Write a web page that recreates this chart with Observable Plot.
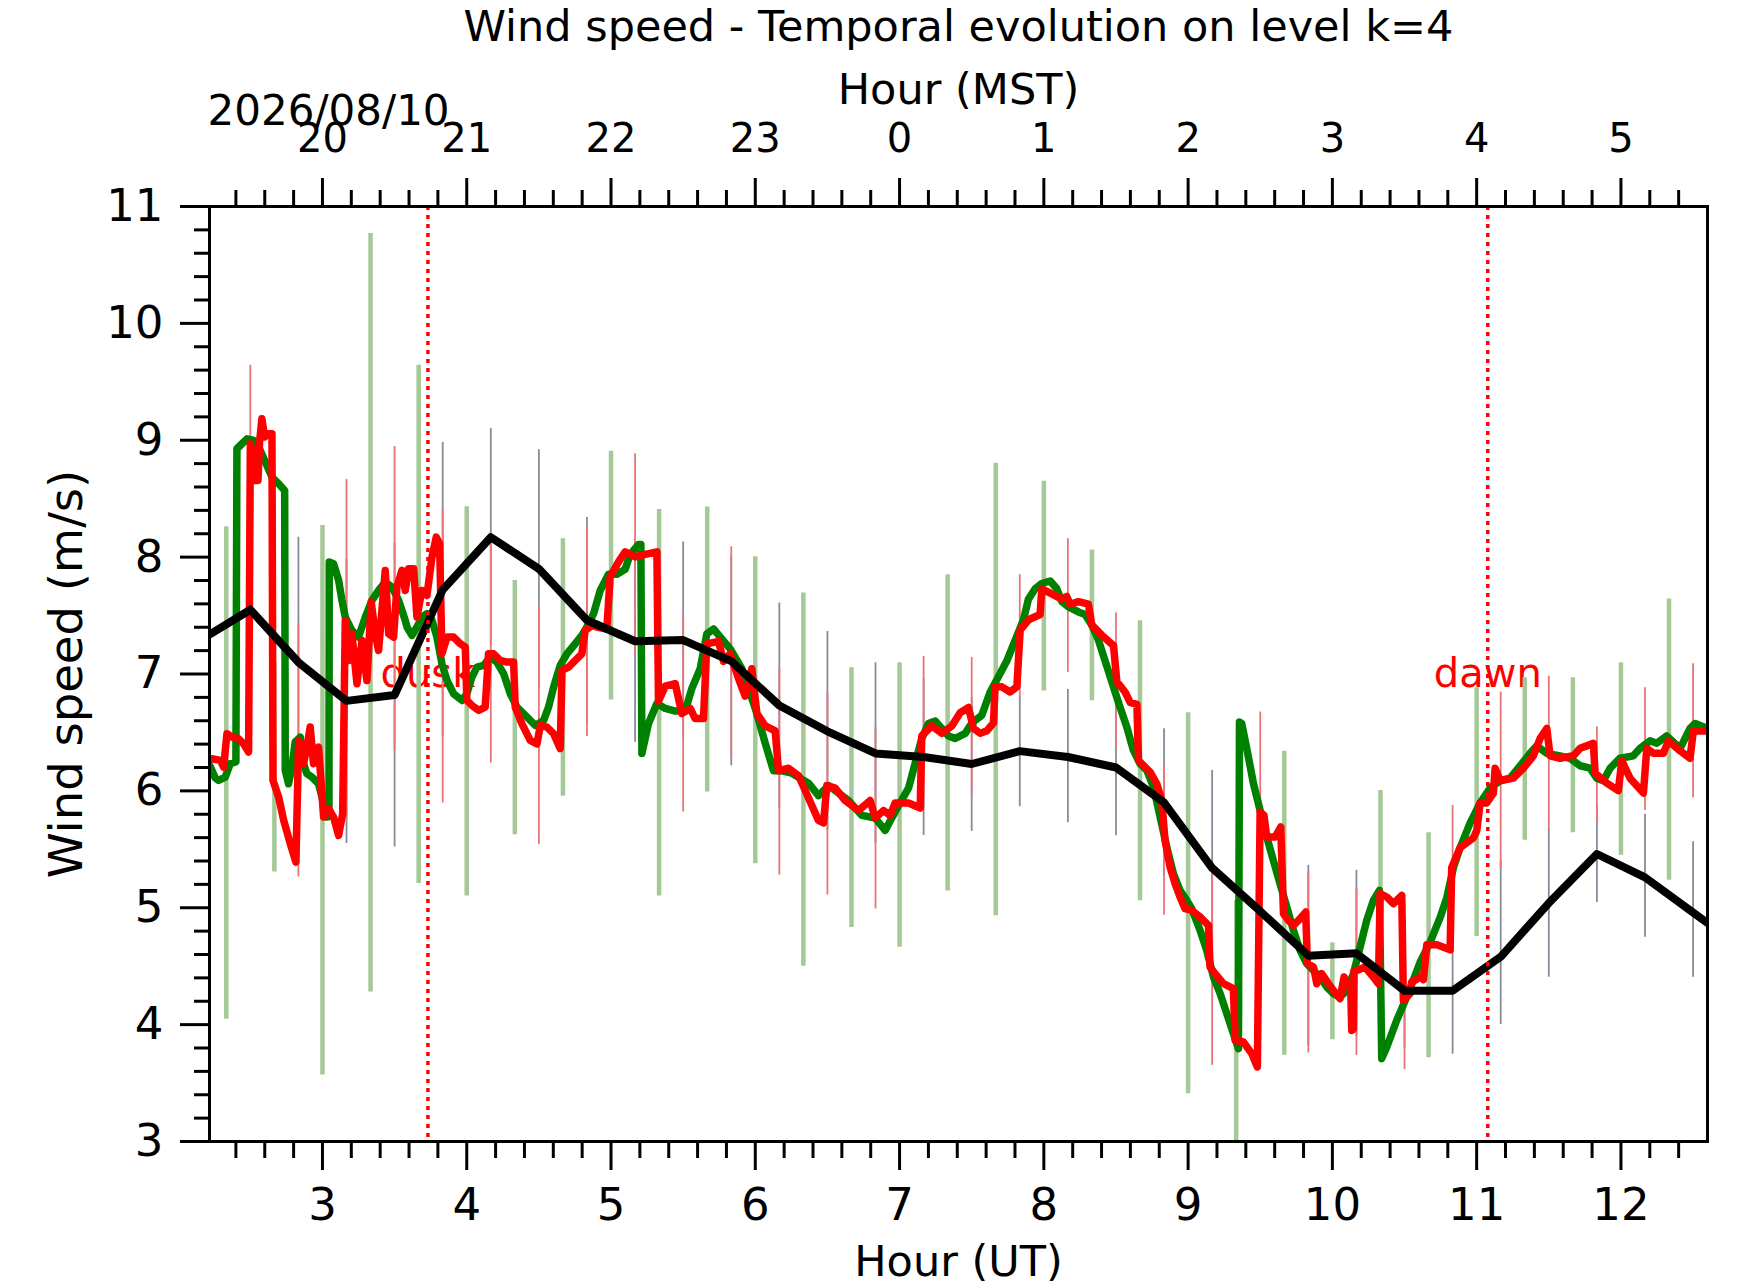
<!DOCTYPE html>
<html>
<head>
<meta charset="utf-8">
<script src="https://cdn.jsdelivr.net/npm/d3@7"></script>
<script src="https://cdn.jsdelivr.net/npm/@observablehq/plot@0.6"></script>
<style>
  body { margin: 0; background: #fff; }
  #chart svg { display: block; }
</style>
</head>
<body>
<div id="chart"></div>
<script>
// ---------------- data (hours UT, wind speed m/s) ----------------
const titleText = "Wind speed - Temporal evolution on level k=4";
const dateText = "2026/08/10";
const xLabelBottom = "Hour (UT)";
const xLabelTop = "Hour (MST)";
const yLabelText = "Wind speed (m/s)";

const utTicks = [3, 4, 5, 6, 7, 8, 9, 10, 11, 12];
const mstTickLabels = ["20", "21", "22", "23", "0", "1", "2", "3", "4", "5"];
const yTicks = [3, 4, 5, 6, 7, 8, 9, 10, 11];

const duskT = 3.731;
const dawnT = 11.077;
const eventLabels = ["dusk", "dawn"];
const eventValue = 7;

// green line
const greenT = [2.217,2.234,2.257,2.280,2.326,2.361,2.400,2.407,2.442,2.477,2.523,2.569,2.604,2.650,2.707,2.738,2.742,2.765,2.788,2.811,2.846,2.869,2.892,2.927,2.973,3.031,3.045,3.047,3.077,3.112,3.135,3.158,3.204,3.250,3.297,3.343,3.389,3.435,3.481,3.528,3.574,3.586,3.620,3.655,3.690,3.724,3.759,3.793,3.828,3.863,3.909,3.967,4.001,4.036,4.071,4.117,4.163,4.209,4.256,4.302,4.348,4.406,4.475,4.533,4.567,4.602,4.648,4.694,4.752,4.798,4.833,4.879,4.925,4.983,5.041,5.098,5.133,5.191,5.207,5.214,5.260,5.318,5.376,5.445,5.514,5.560,5.618,5.664,5.711,5.768,5.826,5.907,6.000,6.069,6.126,6.184,6.253,6.369,6.438,6.508,6.577,6.646,6.739,6.831,6.900,6.946,6.993,7.062,7.108,7.154,7.200,7.247,7.339,7.385,7.455,7.501,7.570,7.628,7.686,7.743,7.801,7.859,7.893,7.940,7.986,8.044,8.090,8.125,8.171,8.240,8.286,8.332,8.379,8.448,8.517,8.575,8.621,8.667,8.714,8.760,8.806,8.852,8.898,8.944,8.991,9.025,9.083,9.129,9.176,9.222,9.268,9.314,9.349,9.356,9.372,9.418,9.453,9.499,9.545,9.591,9.637,9.684,9.730,9.776,9.822,9.869,9.915,9.961,10.007,10.053,10.100,10.146,10.192,10.238,10.284,10.326,10.342,10.377,10.446,10.515,10.539,10.608,10.677,10.747,10.793,10.839,10.885,10.955,11.024,11.093,11.162,11.232,11.301,11.370,11.416,11.486,11.578,11.647,11.717,11.786,11.832,11.878,11.925,11.994,12.086,12.133,12.202,12.248,12.317,12.410,12.479,12.514,12.600];
const greenV = [6.22,6.175,6.11,6.09,6.118,6.233,6.247,8.927,8.97,9.012,8.998,8.913,8.813,8.685,8.613,8.57,6.175,6.061,6.204,6.418,6.46,6.232,6.147,6.118,6.061,5.776,5.78,7.958,7.943,7.801,7.63,7.487,7.373,7.316,7.487,7.63,7.715,7.787,7.744,7.63,7.458,7.402,7.33,7.402,7.487,7.516,7.459,7.316,7.088,6.945,6.831,6.774,6.831,6.974,7.059,7.074,7.145,7.102,7.002,6.831,6.717,6.646,6.56,6.603,6.717,6.888,7.074,7.173,7.259,7.33,7.402,7.516,7.715,7.854,7.854,7.896,8.024,8.109,8.109,6.321,6.577,6.747,6.705,6.683,6.683,6.875,7.045,7.343,7.385,7.3,7.215,7.045,6.705,6.407,6.172,6.172,6.151,6.066,5.96,6.045,5.981,5.917,5.79,5.768,5.662,5.768,5.874,6.023,6.236,6.449,6.577,6.598,6.47,6.448,6.492,6.581,6.647,6.846,6.978,7.111,7.288,7.464,7.641,7.729,7.774,7.796,7.729,7.619,7.575,7.531,7.509,7.42,7.288,7.023,6.757,6.546,6.346,6.232,6.175,6.033,5.776,5.52,5.291,5.149,5.063,4.992,4.807,4.636,4.407,4.265,4.094,3.923,3.794,6.589,6.575,6.289,6.061,5.833,5.605,5.405,5.206,5.006,4.807,4.636,4.522,4.464,4.407,4.322,4.265,4.236,4.293,4.436,4.664,4.892,5.063,5.149,3.709,3.809,4.037,4.236,4.31,4.534,4.704,4.917,5.087,5.343,5.513,5.726,5.896,6.024,6.087,6.109,6.215,6.321,6.385,6.321,6.3,6.279,6.215,6.194,6.109,6.087,6.194,6.279,6.3,6.364,6.428,6.407,6.47,6.364,6.534,6.577,6.534];

// red line
const redT = [2.217,2.234,2.292,2.315,2.338,2.373,2.419,2.453,2.488,2.500,2.523,2.534,2.553,2.564,2.580,2.599,2.615,2.650,2.657,2.696,2.731,2.777,2.816,2.835,2.869,2.892,2.915,2.938,2.973,3.008,3.043,3.077,3.112,3.140,3.158,3.181,3.204,3.239,3.274,3.308,3.338,3.366,3.389,3.435,3.459,3.493,3.516,3.551,3.574,3.597,3.632,3.655,3.689,3.724,3.759,3.789,3.812,3.828,3.863,3.909,3.955,3.990,4.001,4.036,4.082,4.128,4.151,4.186,4.232,4.279,4.325,4.336,4.382,4.440,4.487,4.510,4.556,4.602,4.648,4.660,4.706,4.752,4.798,4.821,4.868,4.902,4.971,4.994,5.052,5.098,5.168,5.237,5.318,5.329,5.376,5.445,5.491,5.549,5.583,5.641,5.664,5.745,5.780,5.826,5.884,5.930,5.976,6.011,6.069,6.138,6.161,6.230,6.300,6.369,6.438,6.473,6.496,6.554,6.623,6.715,6.796,6.831,6.889,6.935,6.969,7.062,7.143,7.154,7.224,7.293,7.362,7.420,7.478,7.512,7.559,7.605,7.651,7.662,7.709,7.766,7.813,7.836,7.894,7.974,7.986,8.055,8.124,8.159,8.182,8.240,8.309,8.332,8.402,8.483,8.506,8.563,8.598,8.645,8.656,8.690,8.737,8.783,8.817,8.840,8.875,8.910,8.944,8.979,9.025,9.083,9.141,9.152,9.187,9.245,9.314,9.326,9.383,9.441,9.480,9.499,9.526,9.545,9.603,9.642,9.661,9.695,9.730,9.776,9.815,9.827,9.869,9.892,9.926,9.973,10.007,10.053,10.081,10.111,10.127,10.134,10.145,10.150,10.173,10.226,10.284,10.319,10.331,10.377,10.423,10.481,10.492,10.538,10.550,10.608,10.631,10.654,10.724,10.816,10.827,10.885,10.978,11.001,11.024,11.070,11.116,11.128,11.162,11.255,11.324,11.393,11.440,11.486,11.509,11.578,11.671,11.717,11.763,11.809,11.821,11.902,11.982,12.006,12.063,12.156,12.179,12.225,12.294,12.329,12.410,12.479,12.502,12.600];
const redV = [6.275,6.275,6.261,6.204,6.489,6.46,6.446,6.403,6.332,8.97,8.841,8.656,8.656,8.984,9.184,9.027,9.055,9.055,6.09,5.947,5.748,5.548,5.391,6.432,6.232,6.375,6.546,6.232,6.375,5.776,5.847,5.776,5.619,5.805,7.458,7.116,7.344,6.917,7.287,6.945,7.615,7.344,7.202,7.886,7.344,7.316,7.744,7.886,7.715,7.9,7.9,7.487,7.715,7.672,8.0,8.171,8.114,7.173,7.316,7.316,7.259,7.23,6.774,6.731,6.689,6.717,7.173,7.173,7.116,7.102,7.102,6.717,6.575,6.432,6.403,6.56,6.546,6.489,6.361,7.031,7.059,7.116,7.173,7.373,7.416,7.402,7.385,7.832,7.96,8.045,8.002,8.024,8.045,6.768,6.896,6.917,6.662,6.705,6.619,6.619,7.258,7.279,7.109,7.173,6.96,6.811,7.045,6.662,6.556,6.513,6.172,6.194,6.13,5.939,5.747,5.726,6.045,6.023,5.917,5.832,5.917,5.768,5.832,5.79,5.896,5.896,5.853,6.47,6.556,6.492,6.556,6.669,6.713,6.536,6.492,6.514,6.581,6.89,6.89,6.846,6.89,7.376,7.464,7.509,7.729,7.685,7.641,7.663,7.597,7.619,7.597,7.42,7.332,7.243,6.934,6.846,6.757,6.74,6.261,6.218,6.161,6.061,5.919,5.577,5.348,5.206,5.092,4.992,4.978,4.921,4.849,4.493,4.436,4.35,4.308,3.866,3.851,3.752,3.638,5.819,5.79,5.605,5.605,5.691,4.949,4.892,4.849,4.906,4.963,4.522,4.493,4.35,4.436,4.35,4.293,4.222,4.407,4.322,4.32,3.95,3.96,4.46,4.464,4.493,4.407,4.35,5.12,5.092,5.035,5.106,4.208,4.265,4.364,4.406,4.385,4.683,4.683,4.64,5.343,5.513,5.598,5.662,5.896,5.896,5.981,6.194,6.087,6.109,6.194,6.3,6.449,6.534,6.3,6.279,6.3,6.364,6.385,6.407,6.151,6.066,6.002,6.258,6.109,5.981,6.364,6.321,6.321,6.428,6.343,6.279,6.513,6.513];

// black line (20-minute means)
const blackT = [2.1667,2.5,2.8333,3.1667,3.5,3.8333,4.1667,4.5,4.8333,5.1667,5.5,5.8333,6.1667,6.5,6.8333,7.1667,7.5,7.8333,8.1667,8.5,8.8333,9.1667,9.5,9.8333,10.1667,10.5,10.8333,11.1667,11.5,11.8333,12.1667,12.5,12.8333];
const blackV = [7.30,7.55,7.10,6.77,6.82,7.72,8.17,7.90,7.46,7.28,7.29,7.11,6.73,6.51,6.32,6.29,6.23,6.34,6.29,6.20,5.90,5.34,4.97,4.59,4.61,4.29,4.29,4.58,5.04,5.46,5.26,4.96,4.66];

// grey bars (at black-line times)
const greyT = [2.5,2.8333,3.1667,3.5,3.8333,4.1667,4.5,4.8333,5.1667,5.5,5.8333,6.1667,6.5,6.8333,7.1667,7.5,7.8333,8.1667,8.5,8.8333,9.1667,9.5,9.8333,10.1667,10.5,10.8333,11.1667,11.5,11.8333,12.1667,12.5];
const greyLo = [6.85,6.03,5.55,5.52,6.46,7.24,6.88,6.58,6.415,6.45,6.215,5.85,5.66,5.55,5.619,5.653,5.865,5.728,5.617,5.27,4.51,4.5,3.82,3.9,3.8,3.747,4.0,4.406,5.045,4.747,4.406];
const greyHi = [8.25,8.17,7.98,8.12,8.98,9.10,8.92,8.34,8.15,8.13,8.0,7.607,7.364,7.096,6.96,6.80,6.81,6.868,6.78,6.532,6.175,5.45,5.363,5.32,4.78,4.83,5.4,5.68,5.88,5.80,5.564];

// red bars
const redBarT = [2.5,2.8333,3.1667,3.5,3.8333,4.1667,4.5,4.8333,5.1667,5.5,5.8333,6.1667,6.5,6.8333,7.1667,7.5,7.8333,8.1667,8.5,8.8333,9.1667,9.5,9.8333,10.1667,10.5,10.8333,11.1667,11.5,11.8333,12.1667,12.5];
const redBarLo = [6.6,5.263,5.747,6.346,5.896,6.238,5.54,6.466,7.173,5.819,6.279,5.279,5.109,4.989,5.85,5.971,6.793,7.014,6.369,4.935,3.652,4.2,3.757,3.737,3.615,4.619,5.334,5.662,5.726,5.832,5.939];
const redBarHi = [9.641,7.43,8.665,8.947,8.414,8.14,7.578,8.248,8.884,7.513,8.088,7.045,6.832,6.543,7.151,7.142,7.849,8.158,7.522,6.218,5.291,6.674,5.306,5.163,4.9,5.875,6.845,6.981,6.547,6.883,7.088];

// green bars
const greenBarT = [2.3333,2.6667,3.0,3.3333,3.6667,4.0,4.3333,4.6667,5.0,5.3333,5.6667,6.0,6.3333,6.6667,7.0,7.3333,7.6667,8.0,8.3333,8.6667,9.0,9.3333,9.6667,10.0,10.3333,10.6667,11.0,11.3333,11.6667,12.0,12.3333];
const greenBarLo = [4.045,5.306,3.568,4.279,5.207,5.10,5.625,5.953,6.777,5.10,5.99,5.377,4.50,4.832,4.662,5.143,4.932,6.855,6.771,5.06,3.409,2.9,3.737,3.871,4.3,3.717,4.755,5.577,5.641,5.449,5.236];
const greenBarHi = [8.26,7.1,8.271,10.77,9.641,8.43,7.801,8.157,8.905,8.407,8.428,8.003,7.692,7.053,7.096,7.85,8.803,8.649,8.061,7.456,6.669,5.063,6.34,4.70,6.003,5.641,6.883,6.968,6.968,7.096,7.641];

// ---------------- tables ----------------
const greenLine = greenT.map((t, i) => ({t, v: greenV[i]}));
const redLine = redT.map((t, i) => ({t, v: redV[i]}));
const blackLine = blackT.map((t, i) => ({t, v: blackV[i]}));
const greyBars = greyT.map((t, i) => ({t, lo: greyLo[i], hi: greyHi[i]}));
const redBars = redBarT.map((t, i) => ({t, lo: redBarLo[i], hi: redBarHi[i]}));
const greenBars = greenBarT.map((t, i) => ({t, lo: greenBarLo[i], hi: greenBarHi[i]}));
const events = [{t: duskT, label: eventLabels[0]}, {t: dawnT, label: eventLabels[1]}];

const xMinor = d3.range(2.4, 12.5, 0.2).filter(d => Math.abs(d - Math.round(d)) > 0.01);
const yMinor = d3.range(3.2, 11, 0.2).filter(d => Math.abs(d - Math.round(d)) > 0.01);

const FONT = "DejaVu Sans";
const empty = () => "";

const chart = Plot.plot({
  width: 1742,
  height: 1282,
  marginLeft: 209,
  marginRight: 35,
  marginTop: 206,
  marginBottom: 141,
  style: {fontFamily: FONT, background: "white", color: "black", overflow: "visible"},
  x: {domain: [2.217, 12.6], label: null},
  y: {domain: [3, 11], label: null},
  marks: [
    // event labels (under the data)
    Plot.text(events, {x: "t", y: () => eventValue, text: "label", fill: "red", fontSize: 40, lineAnchor: "middle", textAnchor: "middle"}),
    // error bars
    Plot.ruleX(greyBars, {x: "t", y1: "lo", y2: "hi", stroke: "#878b97", strokeWidth: 1.8, clip: true}),
    Plot.ruleX(redBars, {x: "t", y1: "lo", y2: "hi", stroke: "#e87575", strokeWidth: 1.8, clip: true}),
    Plot.ruleX(greenBars, {x: "t", y1: "lo", y2: "hi", stroke: "#a4c996", strokeWidth: 4.5, clip: true}),
    // lines
    Plot.line(greenLine, {x: "t", y: "v", stroke: "green", strokeWidth: 7.5, strokeLinejoin: "round", clip: true}),
    Plot.line(redLine, {x: "t", y: "v", stroke: "red", strokeWidth: 7.5, strokeLinejoin: "round", clip: true}),
    Plot.line(blackLine, {x: "t", y: "v", stroke: "black", strokeWidth: 8, strokeLinejoin: "round", clip: true}),
    // dusk / dawn markers
    Plot.ruleX(events, {x: "t", stroke: "red", strokeWidth: 3.5, strokeDasharray: "4,5"}),
    // frame
    Plot.frame({stroke: "black", strokeWidth: 3}),
    // ticks
    Plot.axisX(utTicks, {anchor: "bottom", tickSize: 29, strokeWidth: 3, tickFormat: empty, label: null}),
    Plot.axisX(xMinor, {anchor: "bottom", tickSize: 17, strokeWidth: 3, tickFormat: empty, label: null}),
    Plot.axisX(utTicks, {anchor: "top", tickSize: 29, strokeWidth: 3, tickFormat: empty, label: null}),
    Plot.axisX(xMinor, {anchor: "top", tickSize: 17, strokeWidth: 3, tickFormat: empty, label: null}),
    Plot.axisY(yTicks, {anchor: "left", tickSize: 29, strokeWidth: 3, tickFormat: empty, label: null}),
    Plot.axisY(yMinor, {anchor: "left", tickSize: 15, strokeWidth: 3, tickFormat: empty, label: null}),
    // tick labels
    Plot.text(utTicks, {x: d => d, text: d => String(d), frameAnchor: "bottom", dy: 64, lineAnchor: "middle", fontSize: 45, fill: "black"}),
    Plot.text(utTicks, {x: d => d, text: (d, i) => mstTickLabels[i], frameAnchor: "top", dy: -67, lineAnchor: "middle", fontSize: 40, fill: "black"}),
    Plot.text(yTicks, {y: d => d, text: d => String(d), frameAnchor: "left", textAnchor: "end", dx: -46, lineAnchor: "middle", fontSize: 45, fill: "black"}),
    // titles and axis labels
    Plot.text([titleText], {text: d => d, frameAnchor: "top", dy: -179, lineAnchor: "middle", fontSize: 43, fill: "black"}),
    Plot.text([xLabelTop], {text: d => d, frameAnchor: "top", dy: -116, lineAnchor: "middle", fontSize: 43, fill: "black"}),
    Plot.text([dateText], {text: d => d, frameAnchor: "top-left", textAnchor: "start", dx: -2, dy: -95, lineAnchor: "middle", fontSize: 42, fill: "black"}),
    Plot.text([xLabelBottom], {text: d => d, frameAnchor: "bottom", dy: 121, lineAnchor: "middle", fontSize: 43, fill: "black"}),
    Plot.text([yLabelText], {text: d => d, frameAnchor: "left", textAnchor: "middle", rotate: -90, dx: -142, lineAnchor: "middle", fontSize: 46.5, fill: "black"})
  ]
});
document.getElementById("chart").appendChild(chart);
</script>
</body>
</html>
